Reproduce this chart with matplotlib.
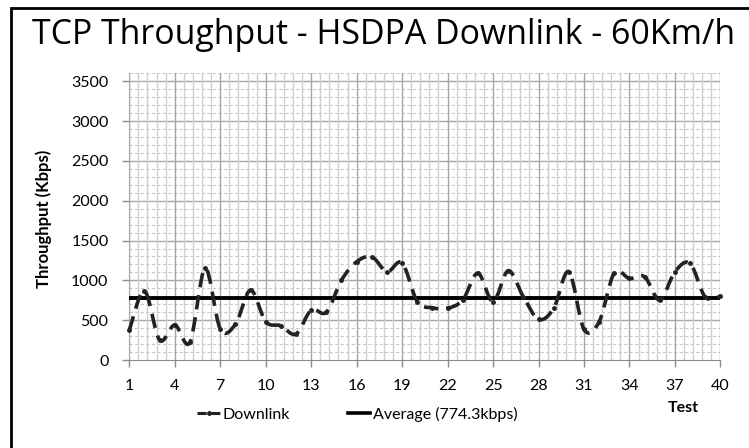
import matplotlib
matplotlib.use("Agg")
import matplotlib.pyplot as plt
from matplotlib.path import Path
from matplotlib.patches import PathPatch, Rectangle
from matplotlib.lines import Line2D
import numpy as np

tests = list(range(1, 41))
downlink = [375, 866, 250, 439, 222, 1150, 390, 447, 878, 481,
            430, 326, 627, 600, 1003, 1233, 1296, 1108, 1220, 732,
            656, 650, 753, 1090, 732, 1121, 794, 510, 648, 1108,
            385, 481, 1096, 1024, 1045, 753, 1108, 1213, 790, 800]
average = 774.3
title = "TCP Throughput - HSDPA Downlink - 60Km/h"
xticks = list(range(1, 41, 3))
yticks = list(range(0, 3501, 500))

font = "Lato"
fig = plt.figure(figsize=(7.49, 4.48), dpi=100)
fig.patch.set_facecolor("white")
fig.patches.append(Rectangle((11/749, -0.1), 1.0, 1 - 8/448 + 0.1, transform=fig.transFigure,
                             fill=False, edgecolor="black", linewidth=2))

ax = fig.add_axes([129.3/749, 1 - 360/448, (720.4 - 129.3)/749, (360 - 73.3)/448])
ax.set_xlim(1, 40)
ax.set_ylim(0, 3600)

# grid
for v in np.arange(100, 3601, 100):
    if v % 500 == 0:
        ax.axhline(v, color="#a6a6a6", lw=1.0, zorder=1)
    else:
        ax.axhline(v, color="#c8c8c8", lw=0.8, ls=(0, (3, 2)), zorder=1)
for v in np.arange(1, 40.01, 0.6):
    if abs(((v - 1) / 3) - round((v - 1) / 3)) < 1e-6:
        ax.axvline(v, color="#a6a6a6", lw=1.0, zorder=1)
    else:
        ax.axvline(v, color="#cfcfcf", lw=1.0, zorder=1)

# smoothed series via bezier path
x = np.array(tests, float)
y = np.array(downlink, float)
verts = [(x[0], y[0])]
codes = [Path.MOVETO]
n = len(x)
for i in range(n - 1):
    p0 = (x[i - 1], y[i - 1]) if i > 0 else (x[i], y[i])
    p1 = (x[i], y[i])
    p2 = (x[i + 1], y[i + 1])
    p3 = (x[i + 2], y[i + 2]) if i + 2 < n else (x[i + 1], y[i + 1])
    c1 = (p1[0] + (p2[0] - p0[0]) / 6, p1[1] + (p2[1] - p0[1]) / 6)
    c2 = (p2[0] - (p3[0] - p1[0]) / 6, p2[1] - (p3[1] - p1[1]) / 6)
    verts += [c1, c2, p2]
    codes += [Path.CURVE4] * 3
patch = PathPatch(Path(verts, codes), fill=False, edgecolor="#222222", lw=2.6,
                  linestyle=(0, (4, 2.2)), zorder=4, clip_on=False, capstyle="butt")
ax.add_patch(patch)
ax.plot(tests, downlink, ls="none", marker="o", ms=2.5, color="#222222", zorder=5, clip_on=False)
ax.plot([1, 40], [average, average], color="black", lw=2.8, zorder=3, solid_capstyle="butt")

for s in ["top", "right"]:
    ax.spines[s].set_visible(False)
ax.spines["left"].set_color("#a6a6a6")
ax.spines["bottom"].set_color("#8c8c8c")
ax.set_xticks(xticks)
ax.set_yticks(yticks)
ax.tick_params(axis="both", colors="#8c8c8c", length=5, width=1, labelcolor="black",
               labelsize=11.5)
ax.tick_params(axis="x", pad=9)
ax.tick_params(axis="y", pad=10)
for lab in ax.get_xticklabels() + ax.get_yticklabels():
    lab.set_fontfamily(font)

fig.text(32/749, 1 - 35/448, title, fontsize=24.4, family="Open Sans", ha="left", va="center")
fig.text(44/749, 1 - 219/448, "Throughput (Kbps)", rotation=90, fontsize=12, family=font,
         fontweight="bold", ha="center", va="center")
fig.text(683/749, 1 - 408/448, "Test", fontsize=11.5, family=font, fontweight="bold",
         ha="center", va="center")

h1 = Line2D([], [], color="#222222", lw=2.2, ls=(0, (3, 1.5)), marker="o", ms=2.5)
h2 = Line2D([], [], color="black", lw=2.6)
leg = fig.legend([h1, h2], ["Downlink", "Average (774.3kbps)"], ncol=2, frameon=False,
                 loc="center left", bbox_to_anchor=(183/749, 1 - 414/448),
                 handlelength=1.4, handletextpad=0.2, columnspacing=3.6,
                 prop={"family": font, "size": 11.5})

fig.savefig("out.png", dpi=100)
